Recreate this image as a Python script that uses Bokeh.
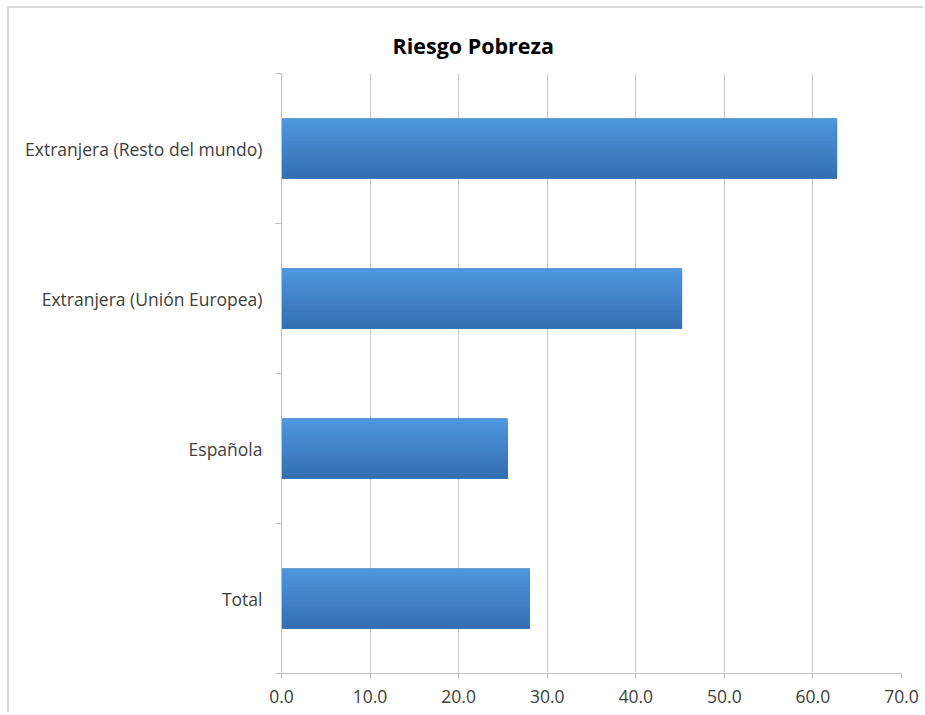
from bokeh.plotting import figure
from bokeh.models import FixedTicker, Range1d, ColumnDataSource
from bokeh.embed import file_html
from bokeh.resources import INLINE

# ---- data ----
categories = ["Total", "Española", "Extranjera (Unión Europea)", "Extranjera (Resto del mundo)"]
values = [28.0, 25.5, 45.2, 62.7]
x_ticks = [0, 10, 20, 30, 40, 50, 60, 70]
x_tick_labels = ["0.0", "10.0", "20.0", "30.0", "40.0", "50.0", "60.0", "70.0"]
title_text = "Riesgo Pobreza"

FONT = "Open Sans"
OX, OY = 9, 8            # canvas offset inside the page (after the chart-area border)
W, H = 925 - OX, 714 - OY
n = len(categories)
centers = [i + 0.5 for i in range(n)]
bounds = [i for i in range(n + 1)]

p = figure(width=W, height=H, output_backend="svg", toolbar_location=None,
           x_range=Range1d(x_ticks[0], x_ticks[-1]), y_range=Range1d(0, n),
           min_border_left=281 - OX, min_border_right=W - (901 - OX),
           min_border_top=73 - OY, min_border_bottom=H - (673 - OY))

# light chart-area border at left/top, as in the reference
p.styles = {"margin-left": "7px", "margin-top": "6px",
            "border-left": "2px solid #d9d9d9", "border-top": "2px solid #d9d9d9"}

p.title.text = title_text
p.title.text_font = FONT
p.title.text_font_style = "bold"
p.title.text_font_size = "21.5px"
p.title.text_color = "#000000"
p.title.align = "left"
p.title.offset = 111
p.title.standoff = 27

# gradient-like bars: overlapping strips painted top-down, light (top) to dark (bottom)
bar_h = 0.4
n_strips = 16
top_rgb = (0x4e, 0x96, 0xde)
bot_rgb = (0x35, 0x6f, 0xb0)
tops, bottoms, rights, cols = [], [], [], []
for c, v in zip(centers, values):
    b = c - bar_h / 2
    for k in range(n_strips):
        t = k / (n_strips - 1)
        rgb = tuple(int(round(a + (bb - a) * t)) for a, bb in zip(top_rgb, bot_rgb))
        tops.append(c + bar_h / 2 - k * bar_h / n_strips)
        bottoms.append(b)
        rights.append(v)
        cols.append("#%02x%02x%02x" % rgb)
src = ColumnDataSource(dict(top=tops, bottom=bottoms, right=rights, color=cols))
p.quad(left=0, right="right", top="top", bottom="bottom", fill_color="color",
       line_color=None, source=src)
p.hbar(y=centers, left=0, right=values, height=bar_h, fill_alpha=0,
       line_color="#3b78bf", line_width=1, line_alpha=0.6)

# x axis
xa = p.xaxis[0]
xa.ticker = FixedTicker(ticks=x_ticks)
xa.major_label_overrides = {t: l for t, l in zip(x_ticks, x_tick_labels)}
xa.axis_line_color = "#bfbfbf"
xa.major_tick_line_color = "#bfbfbf"
xa.major_tick_out = 5
xa.major_tick_in = 0
xa.minor_tick_line_color = None
xa.major_label_text_font = FONT
xa.major_label_text_font_size = "17.5px"
xa.major_label_text_color = "#404040"
xa.major_label_standoff = 11

# y axis
ya = p.yaxis[0]
ya.ticker = FixedTicker(ticks=centers, minor_ticks=bounds)
ya.major_label_overrides = {c: name for c, name in zip(centers, categories)}
ya.axis_line_color = "#bfbfbf"
ya.major_tick_line_color = None
ya.major_tick_out = 0
ya.major_tick_in = 0
ya.minor_tick_line_color = "#bfbfbf"
ya.minor_tick_out = 6
ya.minor_tick_in = 0
ya.major_label_text_font = FONT
ya.major_label_text_font_size = "17.5px"
ya.major_label_text_color = "#404040"
ya.major_label_standoff = 13

p.xgrid.ticker = FixedTicker(ticks=x_ticks)
p.xgrid.grid_line_color = "#c8c8c8"
p.ygrid.grid_line_color = None
p.outline_line_color = None
p.background_fill_color = "white"
p.border_fill_color = "white"

open("out.html", "w").write(file_html(p, INLINE))
